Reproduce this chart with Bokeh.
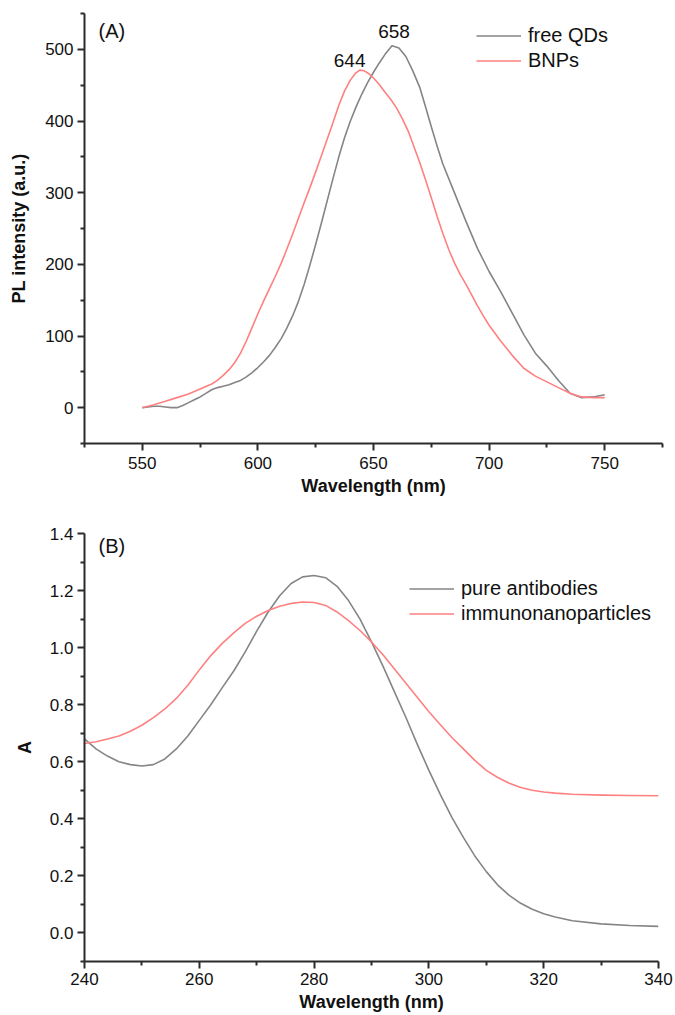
from bokeh.plotting import figure
from bokeh.models import Range1d, FixedTicker, Legend, LegendItem, Label, ColumnDataSource
from bokeh.layouts import column
from bokeh.embed import file_html
from bokeh.resources import INLINE
from bokeh.core.properties import value

# ---------------- Panel A data (PL spectra) ----------------
qd_wavelength = [550, 552.5, 555, 557.5, 560, 562.5, 565, 567.5, 570, 572.5, 575, 577.5, 580, 582.5,
                 585, 587.5, 590, 592.5, 595, 597.5, 600, 602.5, 605, 607.5, 610, 612.5, 615, 617.5,
                 620, 622.5, 625, 627.5, 630, 632.5, 635, 637.5, 640, 642.5, 645, 647.5, 650, 652.5,
                 655, 658, 661, 664, 667, 670, 672.5, 675, 677.5, 680, 685, 690, 695, 700,
                 705, 710, 715, 720, 725, 730, 735, 740, 745, 750]
free_qds = [0, 1, 2, 2, 1, 0, 0, 3, 7, 11, 15, 20, 25, 28,
            30, 32, 35, 38, 43, 49, 56, 64, 73, 84, 96, 111, 128, 148,
            172, 199, 228, 258, 289, 320, 350, 377, 400, 420, 438, 454, 468, 481,
            493, 505, 502, 490, 470, 447, 420, 392, 365, 340, 300, 260, 222, 190,
            162, 132, 102, 76, 58, 38, 20, 14, 15, 18]

bnp_wavelength = [550, 555, 560, 565, 570, 575, 580, 582.5, 585, 587.5, 590, 592.5, 595, 597.5,
                  600, 602.5, 605, 607.5, 610, 612.5, 615, 617.5, 620, 622.5, 625, 627.5, 630, 632.5,
                  635, 637.5, 640, 642, 644, 646, 648, 650, 652.5, 655, 657.5, 660, 662.5, 665,
                  667.5, 670, 672.5, 675, 677.5, 680, 682.5, 685, 687.5, 690, 692.5, 695, 697.5, 700,
                  705, 710, 715, 720, 725, 730, 735, 740, 745, 750]
bnps = [0, 4, 9, 14, 19, 26, 33, 38, 45, 53, 63, 76, 93, 112,
        131, 149, 166, 183, 201, 221, 242, 264, 286, 307, 329, 352, 375, 398,
        422, 442, 457, 466, 471, 470, 466, 460, 451, 440, 430, 418, 403, 386,
        364, 342, 318, 293, 267, 243, 221, 202, 186, 172, 157, 142, 128, 115,
        93, 73, 55, 44, 36, 28, 20, 15, 14, 14]

peak_labels = ["658", "644"]
peak_wavelengths = [658, 644]

a_x_ticks = [550, 600, 650, 700, 750]
a_x_minor = [525, 575, 625, 675, 725, 775]
a_y_ticks = [0, 100, 200, 300, 400, 500]
a_y_minor = [-50, 50, 150, 250, 350, 450, 550]

# ---------------- Panel B data (absorbance) ----------------
ab_wavelength = [240, 242, 244, 246, 248, 250, 252, 254, 256, 258, 260, 262, 264, 266,
                 268, 270, 272, 274, 276, 278, 280, 282, 284, 286, 288, 290, 292, 294,
                 296, 298, 300, 302, 304, 306, 308, 310, 312, 314, 316, 318, 320, 322,
                 325, 330, 335, 340]
pure_antibodies = [0.68, 0.645, 0.62, 0.60, 0.59, 0.585, 0.59, 0.61, 0.645, 0.69, 0.745, 0.80, 0.86, 0.918,
                   0.985, 1.058, 1.125, 1.182, 1.225, 1.248, 1.253, 1.245, 1.215, 1.165, 1.10, 1.02, 0.935, 0.845,
                   0.755, 0.66, 0.57, 0.485, 0.405, 0.335, 0.27, 0.215, 0.168, 0.132, 0.104, 0.083, 0.067, 0.056,
                   0.043, 0.032, 0.026, 0.023]

inp_wavelength = [240, 242, 244, 246, 248, 250, 252, 254, 256, 258, 260, 262, 264, 266,
                  268, 270, 272, 274, 276, 278, 280, 282, 284, 286, 288, 290, 292, 294,
                  296, 298, 300, 302, 304, 306, 308, 310, 312, 314, 316, 318, 320, 322,
                  325, 330, 335, 340]
immunonanoparticles = [0.664, 0.67, 0.68, 0.69, 0.707, 0.728, 0.755, 0.785, 0.822, 0.868, 0.922, 0.972, 1.015, 1.052,
                       1.085, 1.11, 1.13, 1.145, 1.155, 1.16, 1.158, 1.148, 1.125, 1.095, 1.06, 1.02, 0.975, 0.925,
                       0.875, 0.825, 0.775, 0.73, 0.685, 0.645, 0.605, 0.57, 0.545, 0.525, 0.51, 0.50, 0.494, 0.49,
                       0.486, 0.483, 0.482, 0.481]

b_x_ticks = [240, 260, 280, 300, 320, 340]
b_x_minor = [250, 270, 290, 310, 330]
b_y_ticks = [0.0, 0.2, 0.4, 0.6, 0.8, 1.0, 1.2, 1.4]
b_y_tick_labels = ["0.0", "0.2", "0.4", "0.6", "0.8", "1.0", "1.2", "1.4"]
b_y_minor = [-0.1, 0.1, 0.3, 0.5, 0.7, 0.9, 1.1, 1.3]

GRAY = "#858585"
RED = "#ff8080"
AXIS = "#2b2b2b"
FONT = "Liberation Sans"

FA_H = 430
FB_H = 428


def style_axes(p, xlab, ylab, y_standoff):
    for ax in (p.xaxis[0], p.yaxis[0]):
        ax.axis_line_color = AXIS
        ax.axis_line_width = 2
        ax.major_tick_line_color = AXIS
        ax.major_tick_line_width = 2
        ax.minor_tick_line_color = AXIS
        ax.minor_tick_line_width = 2
        ax.major_tick_out = 7
        ax.major_tick_in = 0
        ax.minor_tick_out = 4
        ax.minor_tick_in = 0
        ax.major_label_text_font = FONT
        ax.major_label_text_font_size = "17px"
        ax.major_label_text_color = "#111111"
        ax.axis_label_text_font = FONT
        ax.axis_label_text_font_size = "18px"
        ax.axis_label_text_font_style = "bold"
        ax.axis_label_text_color = "#111111"
    p.xaxis.axis_label = xlab
    p.yaxis.axis_label = ylab
    p.yaxis.major_label_standoff = 4
    p.yaxis.axis_label_standoff = y_standoff
    p.xgrid.visible = False
    p.ygrid.visible = False
    p.outline_line_color = None


# ---------------- Figure A ----------------
pA = figure(frame_width=578, frame_height=FA_H, output_backend="svg", toolbar_location=None,
            x_range=Range1d(525, 775), y_range=Range1d(-50, 550),
            min_border_left=84, min_border_right=13, min_border_top=13, min_border_bottom=57)
style_axes(pA, "Wavelength (nm)", "PL intensity (a.u.)", 13)
pA.xaxis.ticker = FixedTicker(ticks=a_x_ticks, minor_ticks=a_x_minor)
pA.yaxis.ticker = FixedTicker(ticks=a_y_ticks, minor_ticks=a_y_minor)
pA.xaxis.major_label_standoff = 6
pA.xaxis.axis_label_standoff = 4

rA1 = pA.line(qd_wavelength, free_qds, line_color=GRAY, line_width=1.6, line_join="round")
rA2 = pA.line(bnp_wavelength, bnps, line_color=RED, line_width=1.6, line_join="round")

peak_src = ColumnDataSource(dict(
    x=peak_wavelengths,
    y=[max(free_qds), max(bnps)],
    t=peak_labels,
    dx=[2, -10],
    dy=[-14, -10],
))
pA.text(x="x", y="y", text="t", x_offset="dx", y_offset="dy", source=peak_src,
        text_font=value(FONT), text_font_size="19px", text_color="#111111",
        text_align="center", text_baseline="middle")

pA.add_layout(Label(x=14, y=FA_H - 17, x_units="screen", y_units="screen", text="(A)",
                    text_font=FONT, text_font_size="20px", text_color="#111111",
                    text_baseline="middle"))

legA = Legend(items=[LegendItem(label="free QDs", renderers=[rA1]),
                     LegendItem(label="BNPs", renderers=[rA2])],
              location=(392, FA_H - 10 - 50), orientation="vertical")

# ---------------- Figure B ----------------
pB = figure(frame_width=574, frame_height=FB_H, output_backend="svg", toolbar_location=None,
            x_range=Range1d(240, 340), y_range=Range1d(-0.1, 1.4),
            min_border_left=84, min_border_right=17, min_border_top=33, min_border_bottom=54)
style_axes(pB, "Wavelength (nm)", "A", 12)
pB.xaxis.ticker = FixedTicker(ticks=b_x_ticks, minor_ticks=b_x_minor)
pB.yaxis.ticker = FixedTicker(ticks=b_y_ticks, minor_ticks=b_y_minor)
pB.yaxis.major_label_overrides = {t: s for t, s in zip(b_y_ticks, b_y_tick_labels)}
pB.xaxis.major_label_standoff = 4
pB.xaxis.axis_label_standoff = 4

rB1 = pB.line(ab_wavelength, pure_antibodies, line_color=GRAY, line_width=1.6, line_join="round")
rB2 = pB.line(inp_wavelength, immunonanoparticles, line_color=RED, line_width=1.6, line_join="round")

pB.add_layout(Label(x=14, y=FB_H - 12, x_units="screen", y_units="screen", text="(B)",
                    text_font=FONT, text_font_size="20px", text_color="#111111",
                    text_baseline="middle"))

legB = Legend(items=[LegendItem(label="pure antibodies", renderers=[rB1]),
                     LegendItem(label="immunonanoparticles", renderers=[rB2])],
              location=(325, FB_H - 43 - 50), orientation="vertical")

for leg, p in ((legA, pA), (legB, pB)):
    leg.label_text_font = FONT
    leg.label_text_font_size = "20px"
    leg.label_text_color = "#111111"
    leg.glyph_width = 45
    leg.glyph_height = 25
    leg.label_height = 25
    leg.label_standoff = 7
    leg.spacing = 0
    leg.padding = 0
    leg.margin = 0
    leg.border_line_alpha = 0
    leg.background_fill_alpha = 0
    p.add_layout(leg)

layout = column(pA, pB)
open("out.html", "w").write(file_html(layout, INLINE))
